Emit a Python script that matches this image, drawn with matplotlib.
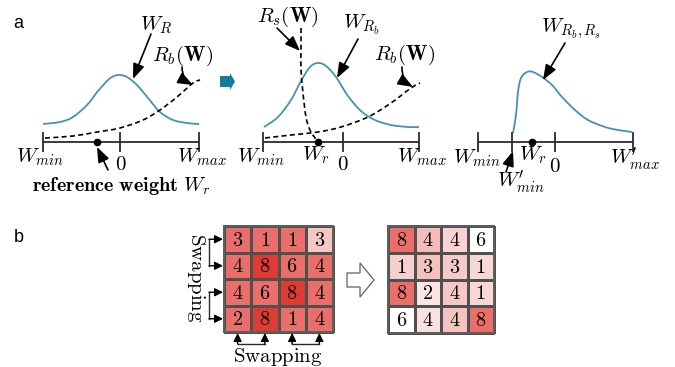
import numpy as np
import matplotlib
matplotlib.use("Agg")
import matplotlib.pyplot as plt
from matplotlib.colors import LinearSegmentedColormap
from matplotlib.patches import Polygon, PathPatch
from matplotlib.path import Path

plt.rcParams['mathtext.fontset'] = 'cm'

# ---------------- data (pixel units) ----------------
# panel a-1 : prior W_R (gaussian) and R_b(W) penalty
c1_x = [43, 60, 73, 87, 98, 108, 114, 120, 127, 137, 148, 160, 173, 187, 199]
c1_y = [124, 122, 117, 105, 91, 80, 76, 75, 77, 85, 98, 112, 120, 123, 124]
rb1_x = [45, 73, 97, 120, 143, 160, 177, 193, 200]
rb1_y = [138, 136, 132, 128, 120, 110, 97, 83, 80]

# panel a-2 : W_Rb, R_b(W), R_s(W)
c2_x = [264, 278, 291, 301, 310, 318, 326, 336, 348, 361, 375, 391, 408, 419]
c2_y = [127, 117, 100, 81, 67, 63, 66, 77, 96, 111, 120, 125, 127, 127]
rb2_x = [265, 291, 318, 341, 368, 391, 411, 420]
rb2_y = [138, 135, 132, 127, 117, 103, 88, 83]
rs2_x = [301, 301, 301, 303, 306, 310, 315, 318]
rs2_y = [28, 50, 70, 93, 117, 130, 138, 142]

# panel a-3 : W_{Rb,Rs}
c3_x = [513, 516, 518, 521, 527, 533, 542, 552, 562, 575, 588, 605, 618, 632]
c3_y = [133, 115, 92, 78, 72, 72, 77, 85, 97, 110, 120, 127, 130, 132]

# panel b grids
left_vals = [[3, 1, 1, 3],
             [4, 8, 6, 4],
             [4, 6, 8, 4],
             [2, 8, 1, 4]]
left_shade = [[0.6, 0.6, 0.6, 0.25],
              [0.6, 0.88, 0.6, 0.6],
              [0.6, 0.6, 0.88, 0.6],
              [0.6, 0.88, 0.6, 0.6]]
right_vals = [[8, 4, 4, 6],
              [1, 3, 3, 1],
              [8, 2, 4, 1],
              [6, 4, 4, 8]]
right_shade = [[0.6, 0.3, 0.2, 0.0],
               [0.22, 0.28, 0.24, 0.18],
               [0.6, 0.12, 0.25, 0.18],
               [0.0, 0.14, 0.27, 0.6]]

# ---------------- figure ----------------
fig = plt.figure(figsize=(6.75, 3.67), dpi=100)
ax = fig.add_axes([0, 0, 1, 1])
ax.set_xlim(0, 675)
ax.set_ylim(367, 0)
ax.axis('off')

BLUE = '#4a8fb5'
AXC = '#2a2a2a'
FS = 15


def smooth_curve(xs, ys, **kw):
    """Draw a smooth (Catmull-Rom as cubic Bezier) path through the points."""
    p = np.column_stack([xs, ys]).astype(float)
    verts = [p[0]]
    codes = [Path.MOVETO]
    n = len(p)
    for i in range(n - 1):
        p0 = p[i - 1] if i > 0 else p[i]
        p1, p2 = p[i], p[i + 1]
        p3 = p[i + 2] if i + 2 < n else p[i + 1]
        verts += [p1 + (p2 - p0) / 6.0, p2 - (p3 - p1) / 6.0, p2]
        codes += [Path.CURVE4] * 3
    ax.add_patch(PathPatch(Path(verts, codes), facecolor='none', **kw))


def axis_line(x0, x1, ticks, y=142):
    ax.plot([x0, x1], [y, y], color=AXC, lw=1.3, solid_capstyle='butt')
    for tk in ticks:
        ax.plot([tk, tk], [y - 9, y + 9], color=AXC, lw=1.3)


def arrow(tail, head, rad=0.0, ms=14, hl=0.65, hw=0.25, lw=1.2):
    ax.annotate('', xy=head, xytext=tail,
                arrowprops=dict(arrowstyle=f'-|>,head_length={hl},head_width={hw}',
                                lw=lw, color='black', mutation_scale=ms,
                                shrinkA=0, shrinkB=0,
                                connectionstyle=f'arc3,rad={rad}'))


def t(x, y, s, fs=FS, **kw):
    ax.text(x, y, s, fontsize=fs, ha='center', va='center', **kw)


# panel labels
ax.text(18, 24, 'a', fontsize=13, family='Liberation Sans', ha='center', va='center')
ax.text(19, 237, 'b', fontsize=13, family='Liberation Sans', ha='center', va='center')

# ---- panel a1
axis_line(43, 199, [43, 120, 199])
smooth_curve(c1_x, c1_y, edgecolor=BLUE, lw=1.3)
smooth_curve(rb1_x, rb1_y, edgecolor='black', lw=1.2, linestyle=(0, (3, 2)))
ax.plot([97], [142], 'o', color='black', ms=4.5)
t(156, 25, r'$W_R$')
t(183, 56, r'$R_b(\mathbf{W})$')
t(40, 157, r'$W_{min}$')
t(202, 157, r'$W_{max}$')
t(121, 164, r'$0$')
t(121, 186, r'$\mathbf{reference\ weight}\ W_r$', fs=14.5)
arrow((151, 34), (133, 79))
arrow((182, 67), (193, 85), rad=0.3)
arrow((108, 170), (97, 147))

# teal block arrow
ax.add_patch(Polygon([[220, 76], [230, 76], [230, 73], [235, 81.5], [230, 90], [230, 87], [220, 87]],
                     closed=True, facecolor='#167a98', edgecolor='none'))

# ---- panel a2
axis_line(263, 419, [263, 343, 419])
smooth_curve(c2_x, c2_y, edgecolor=BLUE, lw=1.3)
smooth_curve(rb2_x, rb2_y, edgecolor='black', lw=1.2, linestyle=(0, (3, 2)))
smooth_curve(rs2_x, rs2_y, edgecolor='black', lw=1.2, linestyle=(0, (3, 2)))
ax.plot([318], [142], 'o', color='black', ms=4.5)
t(288, 17, r'$R_s(\mathbf{W})$')
t(362, 25, r'$W_{R_b}$')
t(405, 55, r'$R_b(\mathbf{W})$')
t(261, 157, r'$W_{min}$')
t(316, 155, r'$W_r$')
t(343, 164, r'$0$')
t(422, 157, r'$W_{max}$')
arrow((277, 28), (300, 51))
arrow((358, 39), (337, 78))
arrow((402, 67), (413, 87), rad=0.3)

# ---- panel a3
axis_line(478, 633, [478, 512, 555, 633])
smooth_curve(c3_x, c3_y, edgecolor=BLUE, lw=1.3)
ax.plot([532], [142], 'o', color='black', ms=4.5)
t(571, 29, r'$W_{R_b,R_s}$')
t(477, 158, r'$W_{min}$')
t(533, 155, r'$W_r$')
t(555, 166, r'$0$')
t(635, 159, r"$W_{max}^{\prime}$")
t(521, 182, r"$W_{min}^{\prime}$")
arrow((565, 43), (543, 80))
arrow((506, 172), (513, 151))

# ---- panel b
cmap = LinearSegmentedColormap.from_list(
    'pinkred', [(0.0, '#ffffff'), (0.25, '#f6c8c5'), (0.6, '#ea6e6a'), (1.0, '#d9261e')])


def grid(x0, x1, y0, y1, vals, shade):
    xe = np.linspace(x0, x1, 5)
    ye = np.linspace(y0, y1, 5)
    ax.pcolormesh(xe, ye, np.array(shade), cmap=cmap, vmin=0, vmax=1,
                  edgecolors='#505050', linewidth=1.0)
    ax.plot([x0, x1, x1, x0, x0], [y0, y0, y1, y1, y0], color='#606060', lw=1.3)
    xc = (xe[:-1] + xe[1:]) / 2
    yc = (ye[:-1] + ye[1:]) / 2
    for i in range(4):
        for j in range(4):
            t(xc[j], yc[i] + 1, f'${vals[i][j]}$', fs=14.5)
    return xc, yc


lxc, lyc = grid(224, 333, 226, 332, left_vals, left_shade)
grid(388, 494, 226, 333, right_vals, right_shade)

# left swap brackets
for a, b in [(0, 1), (2, 3)]:
    ax.plot([209, 209], [lyc[a], lyc[b]], color=AXC, lw=1.0)
    for k in (a, b):
        arrow((209, lyc[k]), (223, lyc[k]), ms=7, hl=0.7, hw=0.35, lw=1.0)
# bottom swap brackets
for a, b in [(0, 1), (2, 3)]:
    ax.plot([lxc[a], lxc[b]], [344, 344], color=AXC, lw=1.0)
    for k in (a, b):
        arrow((lxc[k], 344), (lxc[k], 333), ms=7, hl=0.7, hw=0.35, lw=1.0)

t(196, 278, r'$\mathrm{Swapping}$', fs=15, rotation=-90)
t(278, 357, r'$\mathrm{Swapping}$', fs=15)

# hollow arrow between grids
ax.add_patch(Polygon([[347, 273], [360, 273], [360, 263], [374, 280], [360, 297],
                      [360, 287], [347, 287]], closed=True, facecolor='white',
                     edgecolor='#707070', lw=1.0))

fig.savefig('out.png', dpi=100)
